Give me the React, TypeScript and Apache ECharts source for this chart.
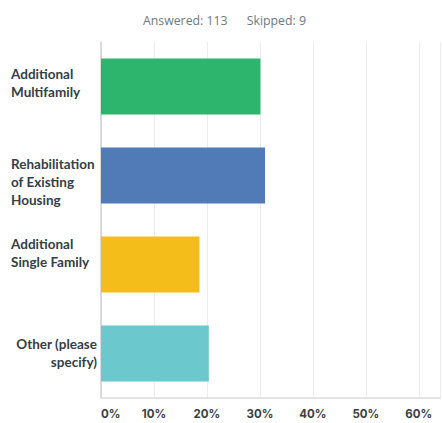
import React, { useEffect, useRef } from "react";
import * as echarts from "echarts";

const categories = ["Additional Multifamily", "Rehabilitation of Existing Housing", "Additional Single Family", "Other (please specify)"];
const labelLines = ["Additional\nMultifamily", "Rehabilitation\nof Existing\nHousing", "Additional\nSingle Family", "Other (please\nspecify)"];
const values = [30.09, 30.97, 18.58, 20.35];
const colors = ["#2db46d", "#517bb7", "#f5bd19", "#6bc8cd"];
const tickValues = [0, 10, 20, 30, 40, 50, 60];
const headerText = "Answered: 113      Skipped: 9";

const labelPads = [
  [0, 0, 8, 0],
  [12, 0, 0, 0],
  [0, 0, 24, 0],
  [0, 0, 2, 0],
];

export default function App() {
  const ref = useRef<HTMLDivElement>(null);
  useEffect(() => {
    const chart = echarts.init(ref.current!, null, { renderer: "svg" });
    chart.setOption({
      animation: false,
      title: {
        text: headerText,
        left: 138,
        top: 9,
        textStyle: { fontFamily: "Open Sans", fontSize: 12.3, fontWeight: "normal", color: "#6e7a82" },
      },
      grid: { left: 101, right: 0, top: 42, bottom: 25, containLabel: false },
      xAxis: {
        type: "value",
        min: 0,
        max: 64,
        interval: 10,
        axisLine: { show: true, lineStyle: { color: "#dcdcdc", width: 1.5 } },
        axisTick: { show: false },
        splitLine: { show: true, lineStyle: { color: "#ececec", width: 1 } },
        axisLabel: {
          margin: 10,
          alignMinLabel: "left",
          fontFamily: "Inter",
          fontSize: 11.5,
          fontWeight: "bold",
          color: "#3a3f44",
          formatter: (v: number) => (tickValues.includes(v) ? v + "%" : ""),
        },
      },
      yAxis: {
        type: "category",
        inverse: true,
        data: categories.map((c, i) => ({ value: c, textStyle: { padding: labelPads[i] } })),
        axisLine: { show: true, lineStyle: { color: "#d0d0d0", width: 1.5 } },
        axisTick: { show: false },
        axisLabel: {
          margin: 4,
          width: 86,
          align: "right",
          formatter: (_v: string, i: number) => {
            const lines = labelLines[i].split("\n");
            const style = i === 3 ? "r" : "l";
            return lines.map((l) => `{${style}|${l}}`).join("\n");
          },
          rich: {
            l: { align: "left", width: 86, fontFamily: "Lato", fontSize: 13.5, fontWeight: "bold", color: "#333e48", lineHeight: 18 },
            r: { align: "right", width: 86, fontFamily: "Lato", fontSize: 13.5, fontWeight: "bold", color: "#333e48", lineHeight: 18 },
          },
        },
      },
      series: [
        {
          type: "bar",
          data: values.map((v, i) => ({ value: v, itemStyle: { color: colors[i] } })),
          barWidth: 56,
        },
      ],
    });
    return () => chart.dispose();
  }, []);
  return <div ref={ref} style={{ position: "absolute", left: 0, top: 0, width: 443, height: 423 }} />;
}
